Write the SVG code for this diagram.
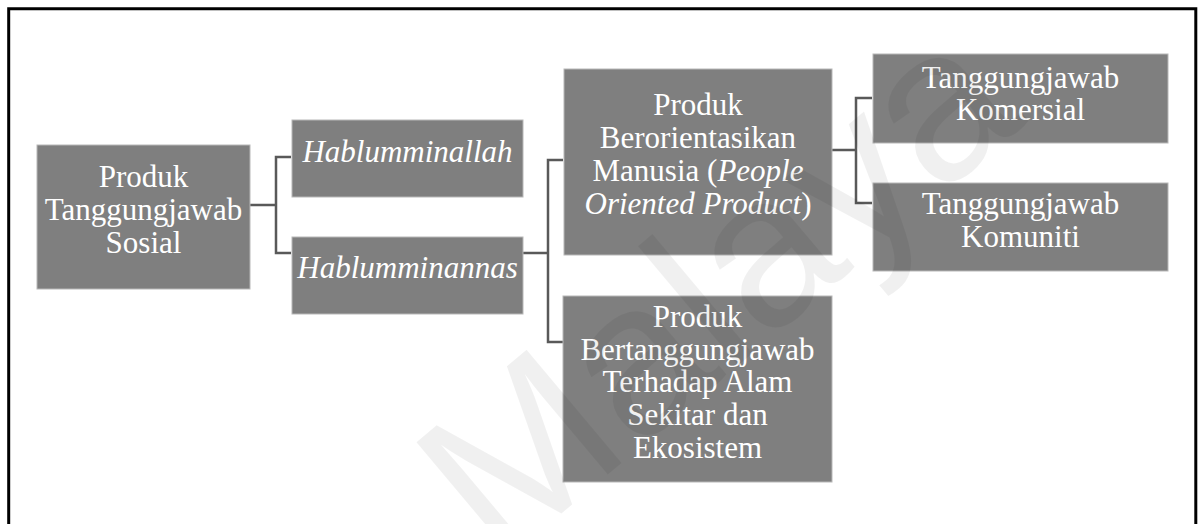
<svg xmlns="http://www.w3.org/2000/svg" width="1203" height="524" viewBox="0 0 1203 524">
<style>
.box{fill:#7f7f7f;stroke:#b8b8b8;stroke-width:1}
.t{font-family:"Liberation Serif","Times New Roman",serif;font-size:31px;fill:#ffffff;text-anchor:middle}
.i{font-style:italic}
.c{fill:none;stroke:#595959;stroke-width:2.5}
</style>
<rect x="0" y="0" width="1203" height="524" fill="#ffffff"/>
<path d="M8.7 524 V8.7 H1195.8 V524" fill="none" stroke="#000" stroke-width="3"/>
<g id="connectors">
<path class="c" d="M250 205 H276 M291 157 H276 V253 H291"/>
<path class="c" d="M523 253 H548 M563 160 H548 V342 H563"/>
<path class="c" d="M832 150 H856 M872 98 H856 V203 H872"/>
</g>
<g id="n1">
<rect class="box" x="37" y="145" width="213" height="144"/>
<text class="t" x="143.5" y="187">Produk</text>
<text class="t" x="143.5" y="220">Tanggungjawab</text>
<text class="t" x="143.5" y="253">Sosial</text>
</g>
<g id="n2">
<rect class="box" x="292" y="120" width="231" height="77"/>
<text class="t i" x="407.5" y="162">Hablumminallah</text>
</g>
<g id="n3">
<rect class="box" x="292" y="237" width="231" height="77"/>
<text class="t i" x="407.5" y="278">Hablumminannas</text>
</g>
<g id="n4">
<rect class="box" x="564" y="69" width="268" height="186"/>
<text class="t" x="698" y="115">Produk</text>
<text class="t" x="698" y="148">Berorientasikan</text>
<text class="t" x="698" y="181">Manusia (<tspan class="i">People</tspan></text>
<text class="t" x="698" y="214"><tspan class="i">Oriented Product</tspan>)</text>
</g>
<g id="n5">
<rect class="box" x="563" y="296" width="269" height="186"/>
<text class="t" x="697.5" y="327">Produk</text>
<text class="t" x="697.5" y="360">Bertanggungjawab</text>
<text class="t" x="697.5" y="392">Terhadap Alam</text>
<text class="t" x="697.5" y="425">Sekitar dan</text>
<text class="t" x="697.5" y="458">Ekosistem</text>
</g>
<g id="n6">
<rect class="box" x="873" y="54" width="295" height="89"/>
<text class="t" x="1020.5" y="88">Tanggungjawab</text>
<text class="t" x="1020.5" y="120">Komersial</text>
</g>
<g id="n7">
<rect class="box" x="873" y="183" width="295" height="88"/>
<text class="t" x="1020.5" y="214">Tanggungjawab</text>
<text class="t" x="1020.5" y="247">Komuniti</text>
</g>
<text x="0" y="60" transform="translate(725,298) rotate(-40)" font-family="Liberation Sans, Arial, sans-serif" font-size="215" text-anchor="middle" fill="#000" fill-opacity="0.06">Malaya</text>
</svg>
